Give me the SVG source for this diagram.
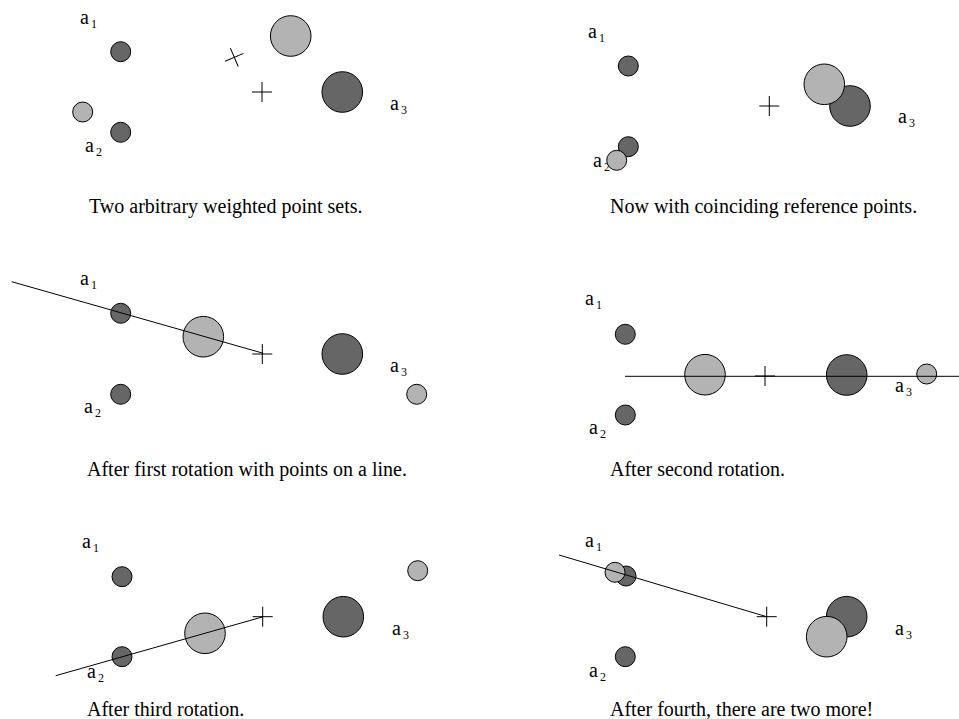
<svg xmlns="http://www.w3.org/2000/svg" width="959" height="719" viewBox="0 0 959 719">
<style>
.d{fill:#666666;stroke:#000;stroke-width:1}
.l{fill:#b3b3b3;stroke:#000;stroke-width:1}
.x{stroke:#000;stroke-width:1;fill:none}
.t{font-family:"Liberation Serif","Times New Roman",serif;font-size:20px;fill:#000}
.s{font-family:"Liberation Serif","Times New Roman",serif;font-size:12px;fill:#000}
.c{font-family:"Liberation Serif","Times New Roman",serif;font-size:20px;fill:#000}
</style>
<defs>
<path id="plus" d="M-10,0H10M0,-10V10" class="x"/>
</defs>
<rect width="959" height="719" fill="#fff"/>

<g id="labels">
<text class="t" x="80" y="24">a</text><text class="s" x="91" y="28">1</text>
<text class="t" x="85" y="152">a</text><text class="s" x="96" y="156">2</text>
<text class="t" x="390" y="110">a</text><text class="s" x="401" y="114">3</text>

<text class="t" x="588" y="38">a</text><text class="s" x="599" y="42">1</text>
<text class="t" x="593" y="167">a</text><text class="s" x="604" y="171">2</text>
<text class="t" x="898" y="123">a</text><text class="s" x="909" y="127">3</text>

<text class="t" x="80" y="285">a</text><text class="s" x="91" y="289">1</text>
<text class="t" x="84" y="413">a</text><text class="s" x="95" y="417">2</text>
<text class="t" x="390" y="372">a</text><text class="s" x="401" y="376">3</text>

<text class="t" x="585" y="305">a</text><text class="s" x="596" y="309">1</text>
<text class="t" x="589" y="434">a</text><text class="s" x="600" y="438">2</text>
<text class="t" x="895" y="392">a</text><text class="s" x="906" y="396">3</text>

<text class="t" x="82" y="548">a</text><text class="s" x="93" y="552">1</text>
<text class="t" x="87" y="678">a</text><text class="s" x="98" y="682">2</text>
<text class="t" x="392" y="635">a</text><text class="s" x="403" y="639">3</text>

<text class="t" x="585" y="547">a</text><text class="s" x="596" y="551">1</text>
<text class="t" x="589" y="677">a</text><text class="s" x="600" y="681">2</text>
<text class="t" x="895" y="635">a</text><text class="s" x="906" y="639">3</text>
</g>

<g id="panel1">
<circle class="d" cx="120.7" cy="51.7" r="10"/>
<circle class="l" cx="82.7" cy="112" r="10"/>
<circle class="d" cx="120.7" cy="132.3" r="10"/>
<circle class="l" cx="290.7" cy="36" r="20.3"/>
<circle class="d" cx="342.3" cy="92" r="20.3"/>
<use href="#plus" transform="translate(234.3,57.3) rotate(-23)"/>
<use href="#plus" transform="translate(262,92)"/>
<text class="c" x="89" y="213">Two arbitrary weighted point sets.</text>
</g>

<g id="panel2">
<circle class="d" cx="628.3" cy="66" r="10"/>
<circle class="d" cx="628.3" cy="146.7" r="10"/>
<circle class="l" cx="616.7" cy="160.3" r="10"/>
<circle class="d" cx="850" cy="106" r="20.3"/>
<circle class="l" cx="824.3" cy="84.3" r="20.3"/>
<use href="#plus" transform="translate(769.3,106)"/>
<text class="c" x="610" y="213">Now with coinciding reference points.</text>
</g>

<g id="panel3">
<circle class="d" cx="120.7" cy="313.3" r="10"/>
<circle class="l" cx="203.3" cy="336.7" r="20.3"/>
<circle class="d" cx="342.3" cy="354" r="20.3"/>
<circle class="l" cx="416.7" cy="394.3" r="10"/>
<circle class="d" cx="120.7" cy="394.3" r="10"/>
<use href="#plus" transform="translate(262.3,354)"/>
<text class="c" x="87" y="475.5">After first rotation with points on a line.</text>
</g>

<g id="panel4">
<circle class="d" cx="625.3" cy="334.3" r="10"/>
<circle class="l" cx="705" cy="374.7" r="20.3"/>
<circle class="d" cx="846.7" cy="375" r="20.3"/>
<circle class="l" cx="926.7" cy="374" r="10"/>
<circle class="d" cx="625.3" cy="415" r="10"/>
<use href="#plus" transform="translate(765,376)"/>
<text class="c" x="610" y="475.5">After second rotation.</text>
</g>

<g id="panel5">
<circle class="d" cx="122" cy="576.7" r="10"/>
<circle class="l" cx="417.7" cy="570.7" r="10"/>
<circle class="l" cx="205" cy="633.3" r="20.3"/>
<circle class="d" cx="122" cy="656.7" r="10"/>
<circle class="d" cx="343.3" cy="616.7" r="20.3"/>
<use href="#plus" transform="translate(262.7,616.7)"/>
<text class="c" x="87" y="716">After third rotation.</text>
</g>

<g id="panel6">
<circle class="d" cx="626" cy="576" r="10"/>
<circle class="l" cx="615" cy="572.3" r="10"/>
<circle class="d" cx="846.7" cy="616.7" r="20.3"/>
<circle class="l" cx="826.7" cy="636.7" r="20.3"/>
<circle class="d" cx="625.3" cy="656.7" r="10"/>
<use href="#plus" transform="translate(766.7,616.7)"/>
<text class="c" x="610" y="716">After fourth, there are two more!</text>
</g>

<g id="connectors">
<line class="x" x1="11.7" y1="281.7" x2="263.3" y2="353.3"/>
<line class="x" x1="625" y1="376.3" x2="959" y2="376.3"/>
<line class="x" x1="55.7" y1="675.7" x2="263.3" y2="616.7"/>
<line class="x" x1="559" y1="555" x2="766.7" y2="616.7"/>
</g>
</svg>
